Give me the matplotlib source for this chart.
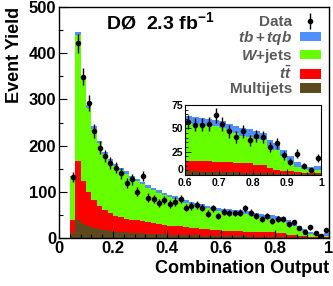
import numpy as np
import matplotlib
matplotlib.use("Agg")
import matplotlib.pyplot as plt
from matplotlib.patches import Patch
from matplotlib.ticker import MultipleLocator

plt.rcParams['font.family'] = ['Liberation Sans', 'DejaVu Sans']
plt.rcParams['mathtext.fontset'] = 'custom'
plt.rcParams['mathtext.rm'] = 'Liberation Sans:bold'
plt.rcParams['mathtext.it'] = 'Liberation Sans:italic:bold'
plt.rcParams['mathtext.bf'] = 'Liberation Sans:bold'

# ---- data (48 bins of width 0.02 from 0.04 to 1.0) ----
bin_lo = 0.04
bin_w = 0.02
data = [132, 422, 349, 292, 232, 195, 178, 162, 152, 140, 119, 127, 100, 134, 87,
        84, 76, 82, 74, 79, 84, 66, 70, 72, 66, 53, 64, 48, 57, 54, 54, 55, 64, 55,
        47, 41, 47, 37, 42, 41, 30, 34, 21, 14, 23, 10, 5, 18]
multijets = [11, 38, 30, 25, 22, 19, 17, 15, 14, 13, 12, 11, 10.5, 10, 9.5, 9, 8.5, 8,
             7.5, 7, 6.5, 6, 6, 5.5, 5, 5, 4.5, 4.5, 4, 4, 3.5, 3.5, 3.5, 3, 3, 3, 2.5,
             2.5, 2.5, 2, 2, 1.5, 1.5, 1.5, 1, 1, 1, 1]
ttbar = [29, 129, 93, 74, 61, 51, 44, 39, 34, 32, 30, 29, 27.5, 26, 24.5, 23, 21.5, 21,
         19.5, 19, 18.5, 18, 16, 15.5, 15, 14, 13.5, 12.5, 11.5, 11, 11.5, 11, 10.5, 11,
         10.5, 10, 10.5, 10, 8.5, 8.5, 5.5, 4, 3, 2.5, 2, 1.5, 1, 1]
wjets = [93, 273, 222, 183, 154, 135, 121, 111, 107, 102, 97, 90, 85, 80, 75, 71, 68, 64,
         61, 58, 55, 52, 51, 49, 47, 45, 43, 42, 40.5, 40, 39, 38.5, 38, 36, 33.5, 32, 29,
         28.5, 28, 26.5, 23.5, 21.5, 15.5, 10, 6, 3.5, 3, 3]
signal = [2, 5, 5, 5, 5, 5, 5, 5, 5, 5, 5, 5, 5, 5, 5, 5, 5, 5, 6, 6, 6, 6, 6, 6, 6, 6, 7,
          7, 7, 7, 7, 7, 7, 8, 8, 8, 8, 8, 8, 8, 7, 7, 7, 6, 5, 5, 4, 5]

labels = ['Data', r'$tb + tqb$', r'$W$+jets', r'$t\bar{t}$', 'Multijets']
colors = {'sig': '#4f8fff', 'w': '#66ff00', 'tt': '#ff0000', 'mj': '#5c4a1e'}
x_ticks = [0, 0.2, 0.4, 0.6, 0.8, 1.0]
x_ticklabels = ['0', '0.2', '0.4', '0.6', '0.8', '1']
y_ticks = [0, 100, 200, 300, 400, 500]
inset_xticks = [0.6, 0.7, 0.8, 0.9, 1.0]
inset_xticklabels = ['0.6', '0.7', '0.8', '0.9', '1']
inset_yticks = [0, 25, 50, 75]

nb = len(data)
edges = bin_lo + bin_w * np.arange(nb)
centers = edges + bin_w / 2
mj = np.array(multijets, float)
tt = np.array(ttbar, float)
wj = np.array(wjets, float)
sg = np.array(signal, float)
d = np.array(data, float)
err = np.sqrt(d)

fig = plt.figure(figsize=(3.33, 2.86), dpi=100)
W, H = 333, 286


def draw_stack(ax):
    ax.bar(edges, mj, width=bin_w, align='edge', color=colors['mj'], linewidth=0)
    ax.bar(edges, tt, width=bin_w, bottom=mj, align='edge', color=colors['tt'], linewidth=0)
    ax.bar(edges, wj, width=bin_w, bottom=mj + tt, align='edge', color=colors['w'], linewidth=0)
    ax.bar(edges, sg, width=bin_w, bottom=mj + tt + wj, align='edge', color=colors['sig'], linewidth=0)


ax = fig.add_axes([59 / W, 1 - 238 / H, 270 / W, 231 / H])
draw_stack(ax)
eb = ax.errorbar(centers, d, yerr=err, fmt='o', color='black', markersize=3,
                 elinewidth=1, capsize=0)
ax.set_xlim(0, 1)
ax.set_ylim(0, 500)
ax.set_xticks(x_ticks)
ax.set_xticklabels(x_ticklabels)
ax.set_yticks(y_ticks)
ax.xaxis.set_minor_locator(MultipleLocator(0.04))
ax.yaxis.set_minor_locator(MultipleLocator(50))
ax.tick_params(which='both', direction='in', top=False, right=False, width=0.8)
ax.tick_params(which='major', length=6, labelsize=12, pad=2)
ax.tick_params(which='minor', length=3)
for lab in ax.get_xticklabels() + ax.get_yticklabels():
    lab.set_fontweight('bold')
for s in ax.spines.values():
    s.set_linewidth(1)
ax.set_xlabel('Combination Output', fontsize=13, fontweight='bold', loc='right', labelpad=3)
ax.set_ylabel('Event Yield', fontsize=13, fontweight='bold', loc='top', labelpad=4)

ax.text(0.175, 0.935, r'DØ  2.3 fb$^{\mathbf{-1}}$', transform=ax.transAxes,
        fontsize=14, fontweight='bold', va='center', ha='left')

handles = [eb,
           Patch(facecolor=colors['sig']),
           Patch(facecolor=colors['w']),
           Patch(facecolor=colors['tt']),
           Patch(facecolor=colors['mj'])]
leg = fig.legend(handles, labels, loc='upper right', bbox_to_anchor=(321 / W, 1 - 15 / H),
                 frameon=False, markerfirst=False, labelcolor='#5a5a5a',
                 prop={'weight': 'bold', 'size': 11},
                 handlelength=1.4, handleheight=0.6, handletextpad=0.5, labelspacing=0.0,
                 borderpad=0, borderaxespad=0)

axi = fig.add_axes([185 / W, 1 - 175 / H, 136 / W, 70 / H])
draw_stack(axi)
axi.errorbar(centers, d, yerr=err, fmt='o', color='black', markersize=3,
             elinewidth=1, capsize=0)
axi.set_xlim(0.6, 1.0)
axi.set_ylim(0, 75)
axi.set_xticks(inset_xticks)
axi.set_xticklabels(inset_xticklabels)
axi.set_yticks(inset_yticks)
axi.xaxis.set_minor_locator(MultipleLocator(0.02))
axi.yaxis.set_minor_locator(MultipleLocator(5))
axi.tick_params(which='both', direction='in', width=0.6)
axi.tick_params(which='major', length=4, labelsize=7.5)
axi.tick_params(axis='x', which='major', pad=2)
axi.tick_params(axis='y', which='major', pad=1)
axi.tick_params(which='minor', length=2)
for lab in axi.get_xticklabels() + axi.get_yticklabels():
    lab.set_fontweight('bold')
axi.get_yticklabels()[0].set_verticalalignment('bottom')
for s in axi.spines.values():
    s.set_linewidth(0.8)

fig.savefig('out.png', dpi=100)
